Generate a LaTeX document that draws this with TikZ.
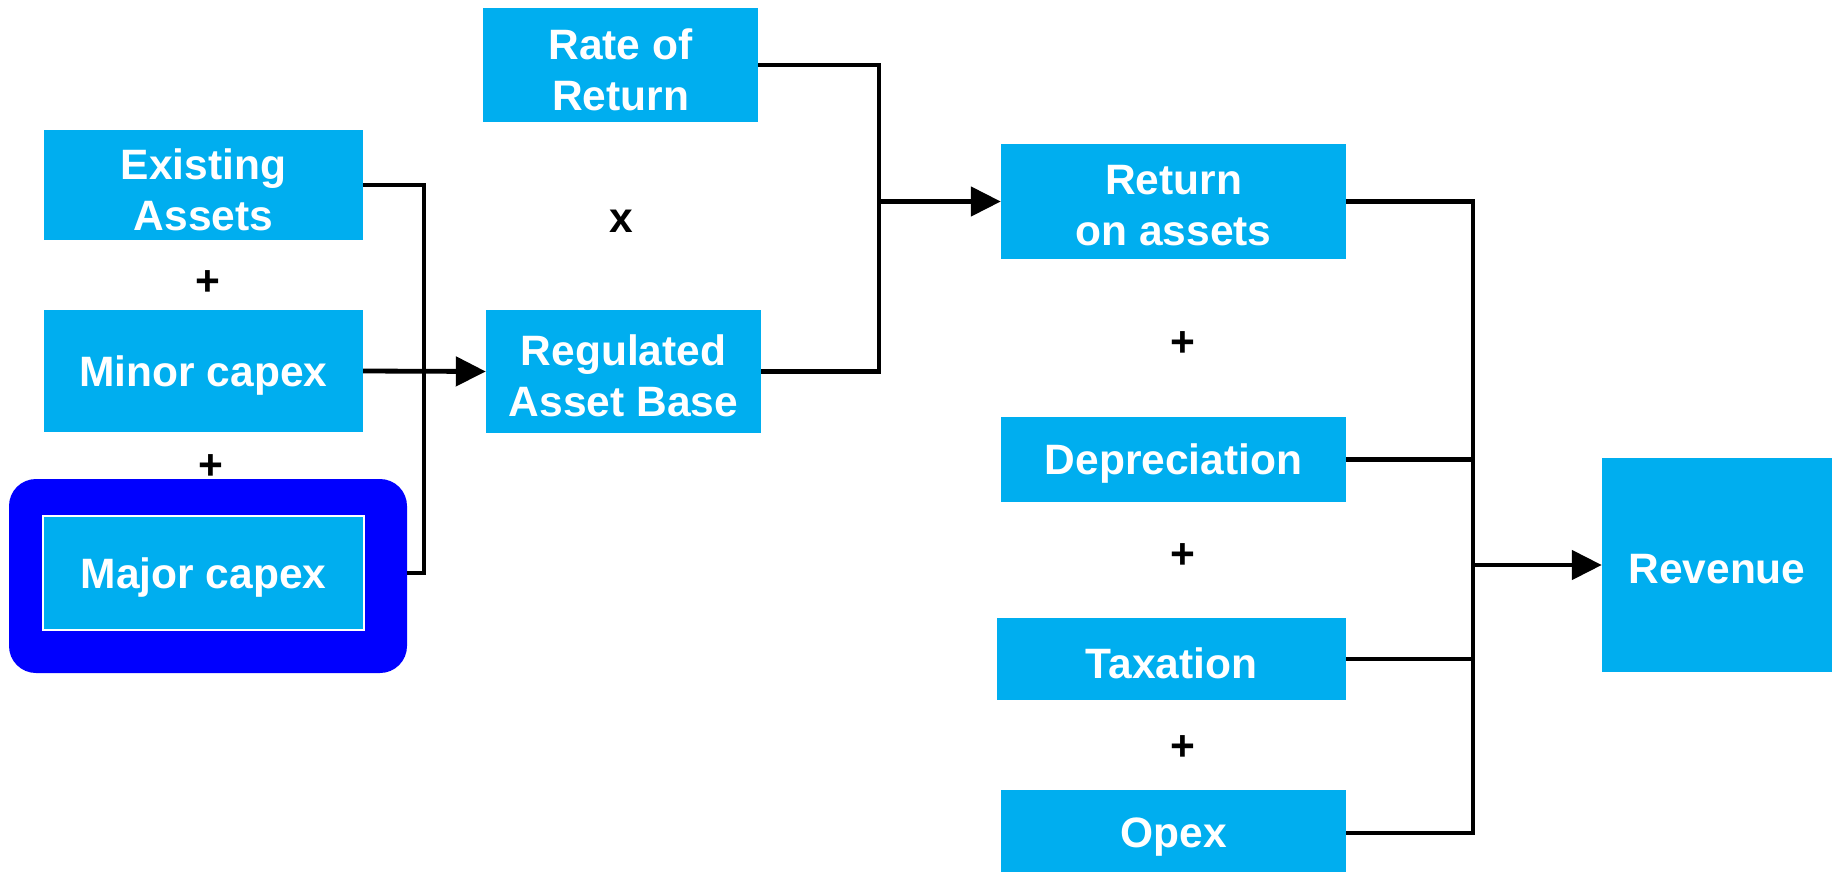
\documentclass[tikz,border=0pt]{standalone}
\usepackage{fontspec}
\setmainfont{Liberation Sans}
\usetikzlibrary{arrows.meta}
\definecolor{boxcyan}{HTML}{00AEEF}
\definecolor{hiblue}{HTML}{0000FF}
\begin{document}
\begin{tikzpicture}[x=1pt,y=-1pt,
  boxtext/.style={text=white,align=center,inner sep=0pt,
    font=\fontsize{42.5}{51}\selectfont\bfseries},
  box/.style={fill=boxcyan,draw=none,inner sep=0pt,
    label={[boxtext,yshift=-4.5pt]center:#1}},
  sym/.style={font=\fontsize{42.5}{51}\selectfont\bfseries,inner sep=0pt},
  conn/.style={line width=4.8pt,line join=miter},
  arr/.style={conn,-{Triangle[length=30pt,width=29pt]}}]
\useasboundingbox[fill=white] (0,0) rectangle (1835,871);
% left column
\node[box={Existing\\Assets},minimum width=319pt,minimum height=110pt] (exist) at (203.5,185) {};
\node[box={Minor capex},minimum width=319pt,minimum height=122pt] (minor) at (203.5,371) {};
\node[fill=hiblue,rounded corners=27pt,minimum width=398pt,minimum height=194pt,inner sep=0pt] (majorouter) at (208,576) {};
\node[box={Major capex},draw=white,line width=2pt,minimum width=321pt,minimum height=114pt] (major) at (203.5,573) {};
\node[sym] (p1) at (208,283) {+};
\node[sym] (p2) at (211,467) {+};
% middle column
\node[box={Rate of\\Return},minimum width=275pt,minimum height=114pt] (ror) at (620.5,65) {};
\node[box={Regulated\\Asset Base},minimum width=275pt,minimum height=123pt] (rab) at (623.5,371.5) {};
\node[sym] (times) at (621,221) {x};
% right column
\node[box={Return\\on assets},minimum width=345pt,minimum height=115pt] (roa) at (1173.5,201.5) {};
\node[box={Depreciation},minimum width=345pt,minimum height=85pt] (dep) at (1173.5,459.5) {};
\node[box={Taxation},minimum width=349pt,minimum height=82pt] (tax) at (1171.5,659) {};
\node[box={Opex},minimum width=345pt,minimum height=86pt] (opex) at (1173.5,833) {};
\node[sym] (p3) at (1183,344) {+};
\node[sym] (p4) at (1183,556) {+};
\node[sym] (p5) at (1183,748) {+};
\node[box={Revenue},minimum width=230pt,minimum height=214pt] (rev) at (1717,565) {};
% bus coordinates
\coordinate (bus1) at (424,371);
\coordinate (bus2) at (879,201.5);
\coordinate (bus3) at (1473,565);
% connectors
\draw[conn] (exist.east) -- (bus1 |- exist.east) -- (bus1 |- major.east) -- (majorouter.east |- major.east);
\draw[arr] (minor.east) -- (rab.west);
\draw[conn] (ror.east) -- (bus2 |- ror.east) -- (bus2 |- rab.east) -- (rab.east);
\draw[arr] (bus2) -- (roa.west);
\draw[conn] (roa.east) -- (bus3 |- roa.east) -- (bus3 |- opex.east) -- (opex.east);
\draw[conn] (dep.east) -- (bus3 |- dep.east);
\draw[conn] (tax.east) -- (bus3 |- tax.east);
\draw[arr] (bus3) -- (rev.west);
\end{tikzpicture}
\end{document}
